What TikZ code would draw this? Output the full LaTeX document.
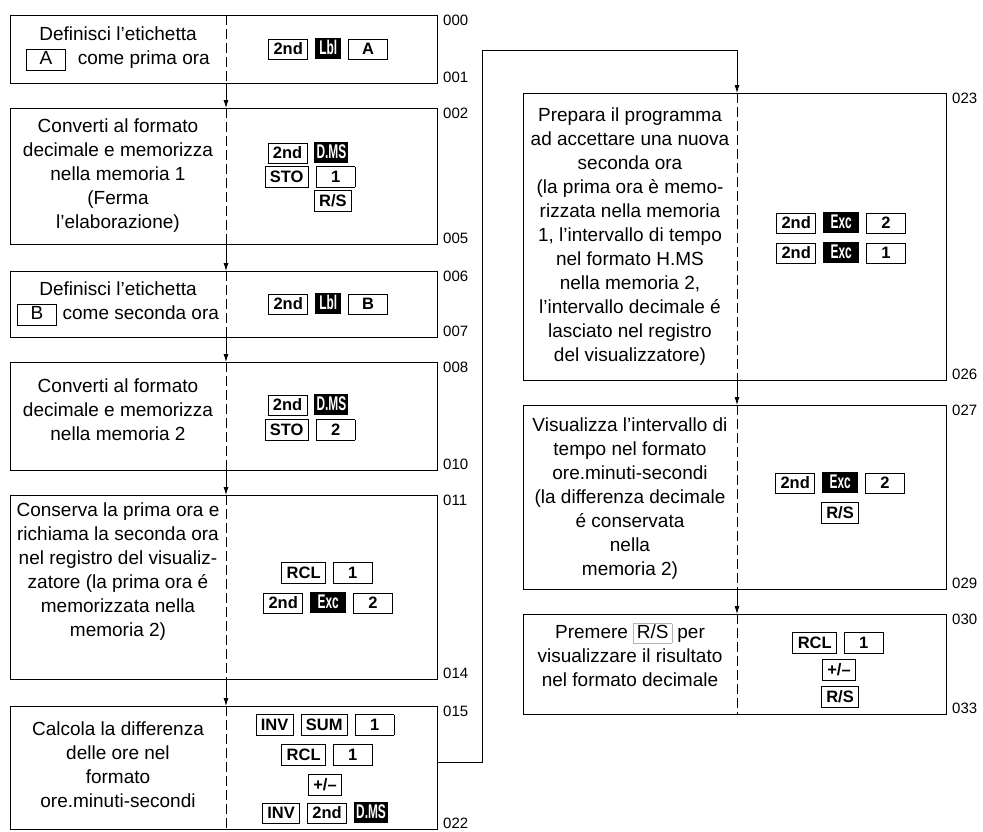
\documentclass[tikz,border=0pt]{standalone}
\usepackage{fontspec}
\setmainfont{Liberation Sans}
\usepackage{graphicx}
\usetikzlibrary{arrows.meta,calc}

\newcommand\kw[1]{{\setlength{\fboxsep}{0pt}\setlength{\fboxrule}{0.8pt}\fbox{\rule[-5pt]{0pt}{20pt}\hspace{4.5pt}\textbf{#1}\hspace{4.5pt}}}}
\newcommand\kd[1]{{\setlength{\fboxsep}{0pt}\setlength{\fboxrule}{0.8pt}\fbox{\makebox[38pt]{\rule[-5pt]{0pt}{20pt}\textbf{#1}}}}}
\newcommand\kb[2][28pt]{{\setlength{\fboxsep}{0pt}\colorbox{black}{\makebox[#1]{\rule[-5pt]{0pt}{21.6pt}\textcolor{white}{\bfseries\scalebox{0.72}[1.2]{#2}}}}}}
\newcommand\kdot[1]{{\setlength{\fboxsep}{0pt}\setlength{\fboxrule}{0.6pt}\fcolorbox{gray!60}{white}{\rule[-4.5pt]{0pt}{19pt}\hspace{3pt}#1\hspace{3pt}}}}
\newcommand\gp{\hspace{7pt}}

\begin{document}
\begin{tikzpicture}[x=1pt,y=-1pt,
  bx/.style={draw, line width=0.8pt, inner sep=0pt, outer sep=0pt, anchor=north west},
  txt/.style={align=center, font=\fontsize{19}{24}\selectfont, inner sep=0pt},
  keyrow/.style={inner sep=0pt, font=\fontsize{16.5}{18}\selectfont},
  lab/.style={font=\fontsize{15}{15}\selectfont, inner sep=0pt},
  divl/.style={line width=0.8pt, dash pattern=on 10pt off 4pt},
  arr/.style={line width=0.8pt, -{Latex[length=8pt,width=5pt]}}]
\useasboundingbox (0,0) rectangle (983,831);

% boxes
\node[bx, minimum width=427pt, minimum height=68pt]  (b1) at (10,15)  {};
\node[bx, minimum width=427pt, minimum height=136pt] (b2) at (10,108) {};
\node[bx, minimum width=427pt, minimum height=66pt]  (b3) at (10,271) {};
\node[bx, minimum width=427pt, minimum height=108pt] (b4) at (10,362) {};
\node[bx, minimum width=427pt, minimum height=184pt] (b5) at (10,495) {};
\node[bx, minimum width=427pt, minimum height=123pt] (b6) at (10,706) {};
\node[bx, minimum width=423pt, minimum height=287pt] (b7) at (523,93)  {};
\node[bx, minimum width=423pt, minimum height=184pt] (b8) at (523,405) {};
\node[bx, minimum width=423pt, minimum height=100pt] (b9) at (523,614) {};

\coordinate (dl) at (226,0);
\coordinate (dr) at (737,0);

% dividers
\foreach \b in {b1,b2,b3,b4,b5,b6} \draw[divl] (\b.north -| dl) -- (\b.south -| dl);
\foreach \b in {b7,b8,b9} \draw[divl] (\b.north -| dr) -- (\b.south -| dr);

% arrows
\draw[arr] (b1.south -| dl) -- (b2.north -| dl);
\draw[arr] (b2.south -| dl) -- (b3.north -| dl);
\draw[arr] (b3.south -| dl) -- (b4.north -| dl);
\draw[arr] (b4.south -| dl) -- (b5.north -| dl);
\draw[arr] (b5.south -| dl) -- (b6.north -| dl);
\draw[arr] (b7.south -| dr) -- (b8.north -| dr);
\draw[arr] (b8.south -| dr) -- (b9.north -| dr);
\coordinate (la) at (482,762);
\coordinate (lb) at (482,50);
\draw[arr] (b6.east |- la) -- (la) -- (lb) -- (lb -| dr) -- (b7.north -| dr);

% step labels
\foreach \b/\t/\u in {b1/000/001, b2/002/005, b3/006/007, b4/008/010, b5/011/014, b6/015/022, b7/023/026, b8/027/029, b9/030/033}{
  \node[lab, anchor=north west] (\b top) at ([xshift=6pt]\b.north east) {\t};
  \node[lab, anchor=south west] (\b bot) at ([xshift=6pt]\b.south east) {\u};
}

% left texts
\node[txt] (t1) at (118,49) {Definisci l’etichetta\\\kd{\normalfont A}\hspace{12pt}come prima ora};
\node[txt] (t2) at (118,176) {Converti al formato\\decimale e memorizza\\nella memoria 1\\(Ferma\\l’elaborazione)};
\node[txt] (t3) at (118,304) {Definisci l’etichetta\\\kd{\normalfont B}\hspace{6pt}come seconda ora};
\node[txt] (t4) at (118,410) {Converti al formato\\decimale e memorizza\\nella memoria 2};
\node[txt] (t5) at (118,572) {Conserva la prima ora e\\richiama la seconda ora\\nel registro del visualiz-\\zatore (la prima ora é\\memorizzata nella\\memoria 2)};
\node[txt] (t6) at (118,765) {Calcola la differenza\\delle ore nel\\formato\\ore.minuti-secondi};
\node[txt] (t7) at (630,237) {Prepara il programma\\ad accettare una nuova\\seconda ora\\(la prima ora è memo-\\rizzata nella memoria\\1, l’intervallo di tempo\\nel formato H.MS\\nella memoria 2,\\l’intervallo decimale é\\lasciato nel registro\\del visualizzatore)};
\node[txt] (t8) at (630,499) {Visualizza l’intervallo di\\tempo nel formato\\ore.minuti-secondi\\(la differenza decimale\\é conservata\\nella\\memoria 2)};
\node[txt] (t9) at (630,655) {Premere \kdot{R/S} per\\visualizzare il risultato\\nel formato decimale};

% key rows
\node[keyrow] (k1)  at (328,49)  {\kw{2nd}\gp\kb[26pt]{Lbl}\gp\kd{A}};
\node[keyrow] (k2a) at (308,153) {\kw{2nd}\gp\kb[34pt]{D.MS}};
\node[keyrow] (k2b) at (310,177) {\kw{STO}\gp\kd{1}};
\node[keyrow] (k2c) at (333,201) {\kw{R/S}};
\node[keyrow] (k3)  at (328,304) {\kw{2nd}\gp\kb[26pt]{Lbl}\gp\kd{B}};
\node[keyrow] (k4a) at (308,405) {\kw{2nd}\gp\kb[34pt]{D.MS}};
\node[keyrow] (k4b) at (310,430) {\kw{STO}\gp\kd{2}};
\node[keyrow] (k5a) at (327,573) {\kw{RCL}\gp\kd{1}};
\node[keyrow] (k5b) at (328,603) {\kw{2nd}\gp\kb[36pt]{Exc}\gp\kd{2}};
\node[keyrow] (k6a) at (325,725) {\kw{INV}\gp\kw{SUM}\gp\kd{1}};
\node[keyrow] (k6b) at (327,755) {\kw{RCL}\gp\kd{1}};
\node[keyrow] (k6c) at (325,785) {\kw{+/–}};
\node[keyrow] (k6d) at (325,813) {\kw{INV}\gp\kw{2nd}\gp\kb[34pt]{D.MS}};
\node[keyrow] (k7a) at (841,223) {\kw{2nd}\gp\kb[36pt]{Exc}\gp\kd{2}};
\node[keyrow] (k7b) at (841,253) {\kw{2nd}\gp\kb[36pt]{Exc}\gp\kd{1}};
\node[keyrow] (k8a) at (840,483) {\kw{2nd}\gp\kb[36pt]{Exc}\gp\kd{2}};
\node[keyrow] (k8b) at (840,513) {\kw{R/S}};
\node[keyrow] (k9a) at (838,643) {\kw{RCL}\gp\kd{1}};
\node[keyrow] (k9b) at (839,670) {\kw{+/–}};
\node[keyrow] (k9c) at (840,697) {\kw{R/S}};
\end{tikzpicture}
\end{document}
